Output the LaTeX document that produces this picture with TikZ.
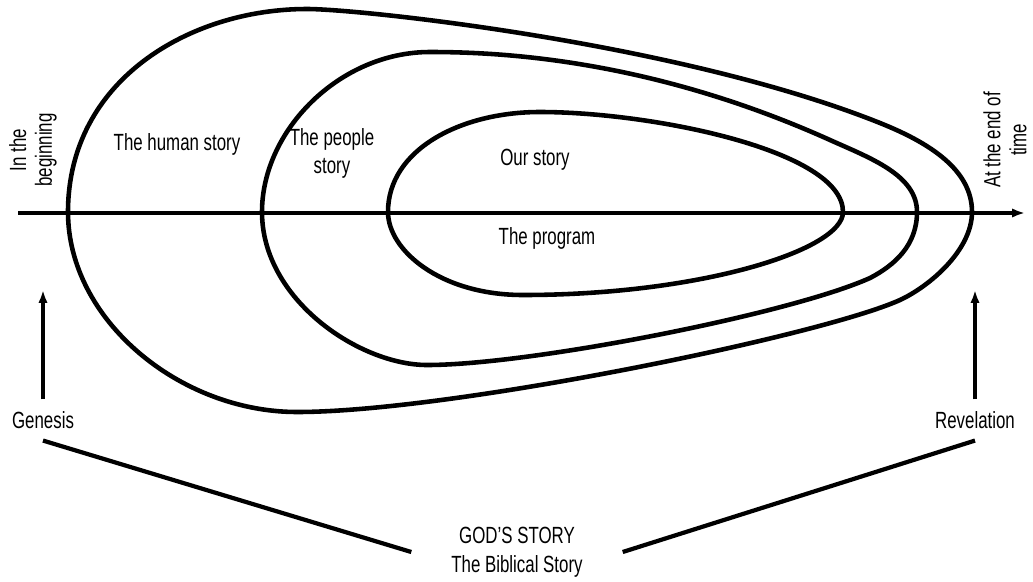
\documentclass[tikz,border=0pt]{standalone}
\usepackage{fontspec}
\setmainfont[FakeStretch=0.72]{Liberation Sans}
\usepackage{tikz}
\usetikzlibrary{arrows.meta}
\tikzstyle{curve} = [line width=3.9pt, line join=round]
\tikzstyle{txt} = [font=\fontsize{20}{22}\selectfont, align=center, inner sep=0pt]
\tikzstyle{wire} = [-{Latex[length=11pt,width=8pt]}, line width=3.2pt]
\tikzstyle{bar} = [line width=3.6pt]

\begin{document}
\begin{tikzpicture}[x=0.03cm, y=-0.03cm]
  \useasboundingbox (0,0) rectangle (1033,581);
  % the human story
  \draw[curve] (68,212) .. controls (68,80) and (190,9) .. (307,9)
    .. controls (360,9) and (680,43) .. (880,123)
    .. controls (930,143) and (972,170) .. (972,212)
    .. controls (972,250) and (930,286) .. (900,300)
    .. controls (820,336) and (450,412) .. (297,412)
    .. controls (180,412) and (68,320) .. cycle;
  % the people story
  \draw[curve] (262,212) .. controls (262,130) and (340,52) .. (430,52)
    .. controls (500,52) and (650,59) .. (830,140)
    .. controls (870,158) and (917,175) .. (917,212)
    .. controls (917,245) and (895,265) .. (870,278)
    .. controls (790,314) and (530,365) .. (427,365)
    .. controls (360,365) and (262,300) .. cycle;
  % our story
  \draw[curve] (388,212) .. controls (388,150) and (460,112) .. (540,112)
    .. controls (650,112) and (843,150) .. (843,212)
    .. controls (843,250) and (700,295) .. (523,295)
    .. controls (440,295) and (388,250) .. cycle;
  % time line
  \coordinate (t0) at (18,213);
  \coordinate (t1) at (1025,213);
  \draw[wire] (t0) -- (t1);
  \node[txt, rotate=90] (begin) at (33,150) {In the\\beginning};
  \node[txt, rotate=90] (end) at (1005,140) {At the end of\\time};
  \node[txt] (human) at (177,144) {The human story};
  \node[txt, font=\fontsize{20}{24}\selectfont] (people) at (332,153) {The people\\story};
  \node[txt] (our) at (535,160) {Our story};
  \node[txt] (prog) at (547,238) {The program};
  % books
  \node[txt, inner ysep=10pt] (gen) at (43,420) {Genesis};
  \node[txt, inner ysep=10pt] (rev) at (975,420) {Revelation};
  \node[txt, inner xsep=34pt, font=\fontsize{20}{25}\selectfont] (god) at (517,552) {GOD'S STORY\\The Biblical Story};
  \coordinate (gtip) at (gen.north |- 0,290);
  \coordinate (rtip) at (rev.north |- 0,290);
  \draw[wire] (gen.north) -- (gtip);
  \draw[wire] (rev.north) -- (rtip);
  \draw[bar] (gen.south) -- (god.west);
  \draw[bar] (rev.south) -- (god.east);
\end{tikzpicture}
\end{document}
